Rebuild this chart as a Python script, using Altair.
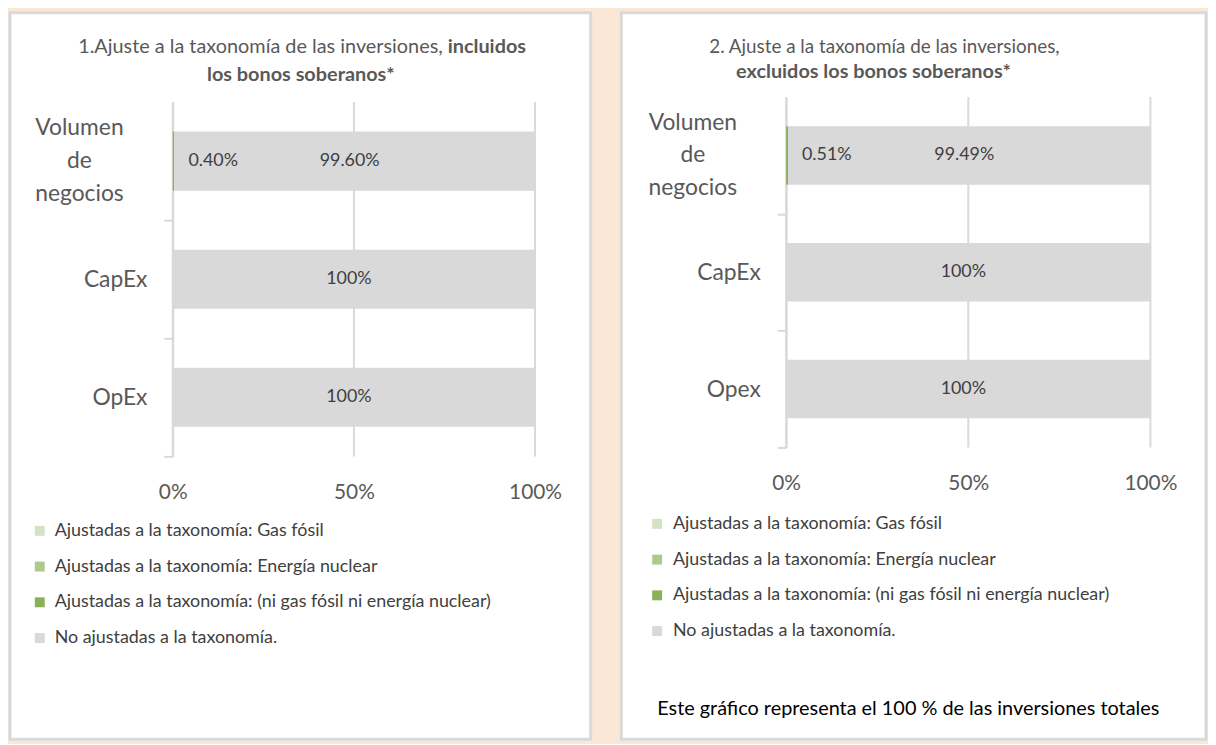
import altair as alt
import pandas as pd

# ---------------- data ----------------
series = [
    "Ajustadas a la taxonomía: Gas fósil",
    "Ajustadas a la taxonomía: Energía nuclear",
    "Ajustadas a la taxonomía: (ni gas fósil ni energía nuclear)",
    "No ajustadas a la taxonomía.",
]
colors = ["#D5E3C5", "#ADCA8C", "#8BB158", "#D9D9D9"]

categories_1 = ["Volumen de negocios", "CapEx", "OpEx"]
gas_1 = [0, 0, 0]
nuclear_1 = [0, 0, 0]
aligned_1 = [0.40, 0, 0]
not_aligned_1 = [99.60, 100, 100]
labels_aligned_1 = ["0.40%", "", ""]
labels_not_aligned_1 = ["99.60%", "100%", "100%"]

categories_2 = ["Volumen de negocios", "CapEx", "Opex"]
gas_2 = [0, 0, 0]
nuclear_2 = [0, 0, 0]
aligned_2 = [0.51, 0, 0]
not_aligned_2 = [99.49, 100, 100]
labels_aligned_2 = ["0.51%", "", ""]
labels_not_aligned_2 = ["99.49%", "100%", "100%"]

x_ticks = [0, 50, 100]

title_1_normal = "1.Ajuste a la taxonomía de las inversiones,"
title_1_bold = "incluidos"
title_1_line2 = "los bonos soberanos*"
title_2_line1 = "2. Ajuste a la taxonomía de las inversiones,"
title_2_line2 = "excluidos los bonos soberanos*"
footnote_2 = "Este gráfico representa el 100 % de las inversiones totales"

# ---------------- style ----------------
FONT = "Lato"
TXT = "#595959"
GRID = "#D9D9D9"
PEACH = "#FAE7D5"
H = 732
DY = -4  # vertical nudge of the panel content


def make_df(cats, cols, labs):
    rows = []
    for i, c in enumerate(cats):
        for k, (s, vals, lbl) in enumerate(zip(series, cols, labs)):
            rows.append(dict(category=c, series=s, order=k, value=vals[i], label=lbl[i]))
    return pd.DataFrame(rows)


blank = ["", "", ""]
df1 = make_df(categories_1, [gas_1, nuclear_1, aligned_1, not_aligned_1],
              [blank, blank, labels_aligned_1, labels_not_aligned_1])
df2 = make_df(categories_2, [gas_2, nuclear_2, aligned_2, not_aligned_2],
              [blank, blank, labels_aligned_2, labels_not_aligned_2])
ticks_df = pd.DataFrame({"tick": x_ticks})


def text_layer(txt, x, y, align="center", weight="normal", size=20, color=TXT):
    return alt.Chart(pd.DataFrame({"t": [txt]})).mark_text(
        align=align, baseline="middle", font=FONT, fontSize=size,
        fontWeight=weight, color=color
    ).encode(x=alt.value(x), y=alt.value(y + DY), text="t:N")


def panel(df, cats, W, xr, yr, legend_x, legend_y, label_offset, extra):
    yr = [yr[0] + DY, yr[1] + DY]
    step = (yr[1] - yr[0]) / len(cats)
    yscale = alt.Scale(domain=cats, range=yr, paddingInner=0.5, paddingOuter=0.25)
    xscale = alt.Scale(domain=[0, 100], range=xr, nice=False)
    yaxis = alt.Axis(
        title=None, offset=-xr[0], domainColor=GRID, domainWidth=2,
        tickColor=GRID, tickWidth=2, tickSize=9,
        tickOffset=step / 2, labelOffset=-step / 2,
        labelFont=FONT, labelFontSize=23, labelColor=TXT, labelLimit=300,
        labelAlign="right", labelPadding=17,
        labelExpr="datum.value == '" + cats[0] + "' ? '' : datum.value",
        grid=False,
    )
    xaxis = alt.Axis(
        title=None, values=x_ticks, labelExpr="datum.value + '%'",
        domain=False, ticks=False, grid=False,
        labelFont=FONT, labelFontSize=21, labelColor=TXT, labelPadding=25,
        offset=-(H - yr[1]), labelFlush=False,
    )
    gridlines = alt.Chart(ticks_df).mark_rule(color=GRID, strokeWidth=2).encode(
        x=alt.X("tick:Q", scale=xscale, axis=xaxis),
        y=alt.value(yr[0]), y2=alt.value(yr[1]),
    )
    bars = alt.Chart(df).mark_bar().encode(
        y=alt.Y("category:N", scale=yscale, axis=yaxis),
        x=alt.X("value:Q", stack="zero", scale=xscale, axis=xaxis),
        color=alt.Color(
            "series:N",
            scale=alt.Scale(domain=series, range=colors),
            legend=alt.Legend(
                title=None, orient="none", legendX=legend_x, legendY=legend_y,
                direction="vertical", symbolType="square", symbolSize=100,
                symbolStrokeWidth=0, labelFont=FONT, labelFontSize=18,
                labelColor="#404040", labelLimit=700, rowPadding=18,
                labelOffset=label_offset, padding=0,
            ),
        ),
        order=alt.Order("order:Q"),
    )
    lab_base = alt.Chart(df).transform_window(
        cum="sum(value)", frame=[None, 0], groupby=["category"],
        sort=[alt.SortField("order")],
    ).transform_calculate(mid="datum.cum - datum.value / 2").transform_filter(
        "datum.label != ''"
    )
    enc = dict(
        x=alt.X("mid:Q", scale=xscale, axis=xaxis),
        y=alt.Y("category:N", scale=yscale, axis=yaxis),
        text="label:N",
    )
    small = lab_base.transform_filter("datum.value < 5").mark_text(
        dx=40, font=FONT, fontSize=18, color="#404040"
    ).encode(**enc)
    big = lab_base.transform_filter("datum.value >= 5").mark_text(
        dx=-5, font=FONT, fontSize=18, color="#404040"
    ).encode(**enc)
    # multi-line category label of the first row, centred like the original
    first_label = alt.Chart(pd.DataFrame({"category": cats[:1]})).mark_text(
        align="center", baseline="middle", lineBreak=" ", lineHeight=33, dy=-33,
        font=FONT, fontSize=23, color=TXT,
    ).encode(
        y=alt.Y("category:N", scale=yscale, axis=yaxis),
        x=alt.value(xr[0] - 94),
        text="category:N",
    )
    return alt.layer(gridlines, bars, small, big, first_label, *extra).properties(
        width=W, height=H
    )


p1 = panel(
    df1, categories_1, 585, [164, 529], [94, 451], 21, 513, 6,
    [
        text_layer(title_1_normal, 436, 39, align="right"),
        text_layer(title_1_bold, 441, 39, align="left", weight="bold"),
        text_layer(title_1_line2, 293, 67, weight="bold"),
    ],
)
p2 = panel(
    df2, categories_2, 589, [166, 533], [89, 442], 27, 506, 7,
    [
        text_layer(title_2_line1, 265, 39, size=19),
        text_layer(title_2_line2, 254, 64, weight="bold"),
        text_layer(footnote_2, 289, 706, color="#000000"),
    ],
)

chart = alt.hconcat(p1, p2, spacing=27, padding=0, background=PEACH).resolve_scale(
    x="independent", y="independent", color="independent"
).resolve_legend(color="independent").resolve_axis(
    x="independent", y="independent"
).configure_view(fill="white", stroke="#D9D9D9", strokeWidth=3)

chart.save("out.html", embed_options={"renderer": "svg", "actions": False})
